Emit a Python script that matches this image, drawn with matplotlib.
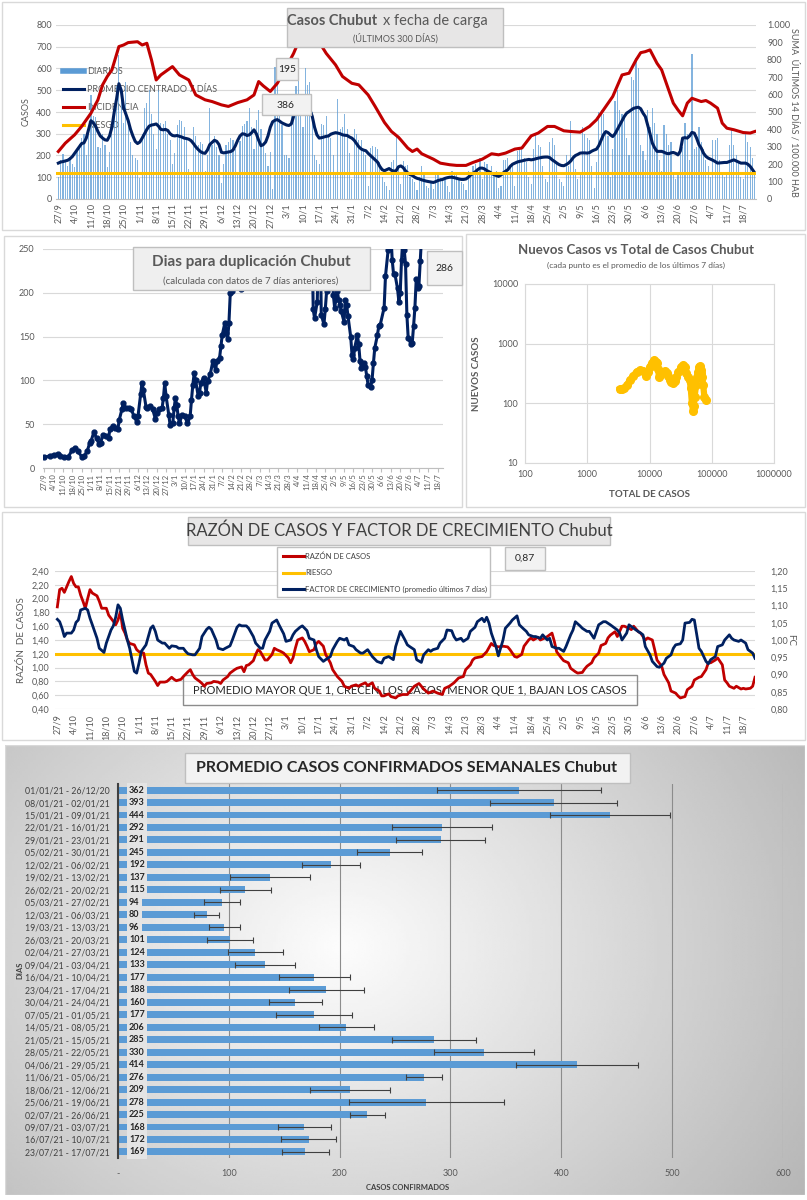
import numpy as np
import pandas as pd
import matplotlib
matplotlib.use("Agg")
import matplotlib.pyplot as plt
from matplotlib.patches import Rectangle
from matplotlib.lines import Line2D

plt.rcParams['font.family'] = ['Lato', 'DejaVu Sans']

# ---------------- datos ----------------
# casos diarios desde 27/9/2020 (300 dias)
diarios = [
    100, 180, 205, 175, 150, 195, 160,
    145, 230, 255, 280, 300, 200, 310,
    480, 380, 375, 240, 235, 300, 250,
    145, 215, 350, 390, 520, 660, 470,
    350, 540, 345, 260, 200, 190, 180,
    95, 300, 420, 440, 500, 390, 300,
    230, 500, 350, 345, 360, 300, 270,
    160, 210, 340, 365, 360, 330, 280,
    140, 110, 330, 290, 250, 260, 255,
    130, 200, 420, 250, 290, 240, 200,
    75, 160, 250, 260, 280, 270, 230,
    120, 265, 335, 345, 360, 420, 330,
    230, 365, 410, 320, 250, 210, 150,
    215, 45, 605, 540, 380, 340, 200,
    200, 190, 480, 430, 520, 600, 390,
    330, 600, 525, 540, 400, 200, 180,
    160, 345, 340, 380, 300, 280, 200,
    110, 460, 320, 330, 390, 320, 210,
    90, 320, 300, 270, 270, 230, 200,
    60, 235, 245, 240, 230, 170, 100,
    80, 60, 40, 170, 180, 290, 150,
    70, 175, 150, 155, 100, 90, 80,
    40, 100, 150, 110, 60, 50, 80,
    45, 120, 110, 95, 90, 100, 60,
    30, 130, 120, 110, 90, 80, 70,
    40, 130, 110, 150, 160, 140, 190,
    90, 170, 160, 130, 150, 110, 130,
    50, 60, 180, 180, 190, 150, 160,
    60, 220, 240, 230, 190, 170, 100,
    70, 230, 300, 250, 240, 150, 90,
    80, 260, 280, 250, 170, 90, 80,
    60, 200, 150, 360, 200, 140, 90,
    120, 330, 300, 280, 270, 150, 50,
    170, 400, 410, 390, 310, 290, 100,
    230, 450, 500, 410, 390, 380, 280,
    200, 560, 545, 650, 600, 250, 220,
    180, 410, 330, 420, 350, 300, 180,
    130, 340, 300, 250, 260, 120, 90,
    110, 230, 240, 350, 300, 180, 667,
    230, 240, 330, 260, 230, 180, 150,
    100, 270, 270, 280, 180, 120, 100,
    110, 250, 320, 250, 200, 170, 100,
    90, 300, 260, 240, 190, 120,
]
promedio_7d = [
    165, 170, 172, 175, 178, 185, 195,
    210, 225, 240, 255, 258, 280, 320,
    360, 350, 335, 310, 290, 280, 272,
    270, 290, 330, 400, 460, 530, 500,
    420, 390, 360, 320, 290, 265, 255,
    262, 280, 300, 320, 335, 340, 342,
    345, 335, 320, 318, 320, 315, 300,
    292, 290, 292, 288, 285, 280, 278,
    275, 268, 255, 240, 228, 218, 212,
    210, 225, 250, 260, 270, 265, 250,
    215, 212, 214, 216, 218, 225, 245,
    270, 290, 300, 298, 292, 295, 305,
    318, 300, 270, 245, 250, 262, 290,
    330, 355, 362, 365, 358, 350, 345,
    340, 338, 345, 380, 420, 450, 455,
    445, 440, 420, 410, 380, 330, 295,
    280, 282, 285, 288, 290, 298, 302,
    305, 303, 300, 295, 293, 292, 285,
    280, 270, 255, 240, 230, 225, 222,
    210, 200, 190, 180, 170, 150, 135,
    130, 135, 140, 132, 128, 130, 148,
    152, 145, 130, 120, 112, 108, 100,
    95, 92, 88, 85, 82, 80, 78,
    76, 80, 85, 88, 90, 95, 98,
    100, 100, 98, 95, 92, 90, 90,
    92, 100, 110, 118, 125, 135, 142,
    142, 138, 130, 125, 118, 112, 108,
    104, 110, 120, 128, 135, 150, 160,
    165, 170, 173, 175, 178, 180, 182,
    180, 182, 185, 188, 190, 192, 193,
    193, 190, 180, 173, 165, 158, 154,
    153, 158, 165, 175, 190, 200, 205,
    211, 212, 212, 211, 213, 220, 225,
    229, 245, 270, 295, 310, 305, 295,
    287, 300, 320, 341, 360, 380, 395,
    402, 410, 417, 420, 422, 415, 395,
    379, 340, 300, 257, 235, 219, 219,
    219, 215, 210, 208, 212, 214, 210,
    203, 220, 280, 282, 280, 290, 306,
    303, 280, 250, 234, 210, 196, 188,
    183, 178, 172, 165, 166, 167, 168,
    168, 172, 176, 180, 175, 170, 165,
    165, 165, 160, 150, 135, 119,
]
inc_dias = [0, 3, 7, 10, 14, 17, 19, 21, 23, 26, 28, 30, 34, 36, 38, 40, 42, 44, 47, 49,
            52, 56, 59, 63, 66, 70, 73, 77, 81, 84, 86, 88, 91, 94, 98, 101, 103, 105, 108, 111,
            113, 115, 119, 122, 126, 129, 133, 136, 140, 143, 146, 147, 150, 152, 154, 156, 161, 164, 168, 171,
            175, 178, 182, 186, 189, 192, 196, 199, 203, 206, 210, 213, 217, 220, 224, 228, 231, 234, 238, 242,
            245, 248, 250, 252, 254, 257, 259, 262, 264, 266, 268, 270, 272, 273, 276, 278, 280, 283, 285, 287,
            290, 294, 297, 299]
incidencia = [273, 321, 369, 417, 493, 570, 656, 704, 742, 876, 885, 899, 904, 885, 895, 799, 684, 713, 742, 761,
              713, 684, 598, 570, 560, 541, 532, 554, 570, 598, 675, 650, 618, 665, 761, 837, 900, 930, 960, 930,
              880, 837, 771, 704, 665, 656, 598, 532, 440, 388, 355, 340, 293, 273, 287, 260, 229, 206, 197, 193,
              193, 210, 229, 260, 254, 264, 287, 293, 363, 379, 417, 417, 392, 388, 384, 417, 455, 512, 589, 713,
              723, 799, 841, 847, 857, 780, 742, 627, 551, 512, 478, 551, 579, 574, 560, 566, 551, 522, 436, 407,
              398, 382, 379, 388]
riesgo_incidencia = 150

dup_dias = [0, 4, 7, 10, 12, 15, 18, 21, 23, 25, 28, 30, 32, 34, 35, 37, 39, 41, 42, 44,
            46, 48, 49, 51, 53, 55, 56, 58, 59, 61, 63, 65, 67, 69, 70, 72, 73, 74, 76, 77,
            79, 81, 83, 84, 86, 88, 89, 90, 91, 93, 94, 96, 97, 98, 99, 100, 101, 103, 105, 107,
            109, 110, 111, 112, 113, 115, 116, 117, 119, 121, 122, 124, 126, 128, 129, 131, 132, 133, 135, 136,
            137, 138, 139, 140, 142, 143, 145, 146, 147, 148, 149, 150, 152, 160, 175, 190, 198, 200, 201, 202,
            204, 205, 206, 207, 209, 210, 211, 212, 214, 215, 216, 217, 219, 220, 221, 222, 224, 225, 226, 227,
            229, 230, 231, 232, 234, 235, 236, 237, 239, 240, 241, 242, 244, 245, 246, 247, 249, 250, 251, 254,
            255, 257, 258, 259, 260, 261, 262, 264, 265, 266, 267, 268, 269, 270, 271, 272, 274, 275, 276, 277,
            278, 279, 280, 281, 282, 284, 287, 290, 293, 296, 299]
duplicacion = [12, 14, 15, 16, 14, 12, 13, 21, 23, 19, 13, 14, 19, 29, 31, 41, 34, 27, 29, 38,
               37, 34, 44, 48, 46, 45, 55, 67, 74, 68, 68, 67, 59, 53, 59, 84, 97, 89, 70, 68,
               71, 67, 56, 63, 67, 68, 80, 97, 82, 61, 49, 51, 68, 80, 72, 59, 51, 61, 59, 51,
               59, 78, 95, 108, 101, 82, 86, 97, 103, 86, 99, 107, 122, 112, 122, 126, 139, 152, 166, 154,
               147, 166, 200, 202, 290, 340, 280, 210, 204, 206, 270, 330, 400, 600, 800, 500, 320, 270, 181, 171,
               190, 260, 300, 175, 164, 181, 202, 270, 290, 260, 198, 183, 202, 192, 186, 179, 167, 192, 186, 173,
               150, 129, 124, 137, 152, 141, 122, 114, 120, 115, 105, 95, 93, 101, 120, 137, 152, 162, 163, 183,
               219, 249, 290, 270, 238, 222, 222, 205, 190, 200, 237, 262, 249, 233, 175, 148, 142, 143, 162, 183,
               216, 206, 208, 236, 265, 300, 330, 310, 300, 290, 286]

total_casos = [3340, 3600, 3900, 4300, 4830, 5500, 6200, 7000, 7900, 8900, 9500, 10000, 11000, 11800, 12500,
               13000, 13700, 14200, 15000, 16500, 17500, 18800, 20000, 21300, 22500, 24200, 25500, 27000, 29000,
               32000, 35000, 36500, 38000, 41000, 44000, 46000, 48000, 50000, 51500, 53000, 56000, 58000, 60000,
               62000, 64000, 66000, 68000, 70000, 73000, 76000, 80000]
nuevos_casos = [172, 175, 180, 200, 247, 290, 340, 360, 355, 290, 330, 410, 480, 535, 500,
                470, 380, 280, 300, 340, 350, 320, 290, 247, 230, 220, 240, 280, 330,
                410, 440, 400, 320, 280, 247, 180, 100, 75, 90, 130, 200, 280, 340,
                410, 420, 365, 320, 280, 200, 130, 115]

razon_dias = [0, 1, 2, 3, 4, 5, 6, 7, 8, 9, 10, 11, 12, 13, 14, 15, 17, 18, 19, 21,
              22, 24, 25, 26, 27, 28, 29, 30, 31, 33, 34, 35, 37, 38, 39, 40, 42, 43, 44, 46,
              47, 49, 50, 51, 53, 54, 56, 57, 58, 59, 61, 62, 63, 64, 66, 67, 69, 70, 71, 73,
              74, 76, 77, 79, 80, 81, 82, 84, 85, 86, 87, 89, 90, 92, 93, 94, 96, 97, 99, 100,
              101, 102, 103, 105, 106, 107, 108, 110, 111, 112, 114, 115, 117, 118, 119, 120, 122, 123, 125, 126,
              128, 129, 130, 132, 133, 135, 136, 138, 139, 140, 142, 143, 145, 146, 148, 150, 153, 155, 157, 159,
              161, 163, 165, 166, 168, 170, 172, 174, 175, 177, 178, 179, 182, 184, 186, 187, 189, 191, 193, 194,
              196, 197, 199, 200, 202, 203, 204, 206, 207, 209, 210, 212, 213, 214, 216, 217, 219, 220, 222, 223,
              225, 226, 227, 229, 230, 232, 233, 235, 236, 237, 239, 240, 242, 243, 245, 246, 247, 249, 250, 252,
              253, 255, 256, 257, 259, 260, 262, 263, 265, 266, 267, 269, 270, 272, 273, 275, 276, 278, 279, 280,
              282, 283, 285, 286, 287, 288, 290, 291, 293, 294, 295, 297, 298, 299]
razon = [1.88, 2.13, 2.15, 2.09, 2.17, 2.25, 2.32, 2.22, 2.17, 2.17, 2.05, 1.96, 1.86, 2.00, 2.13, 2.08, 2.04, 1.96, 1.86, 1.86,
         1.76, 1.67, 1.62, 1.69, 1.81, 1.57, 1.50, 1.40, 1.35, 1.33, 1.26, 1.23, 1.21, 1.04, 0.92, 0.90, 0.80, 0.74, 0.79, 0.79,
         0.80, 0.86, 0.83, 0.81, 0.83, 0.87, 0.94, 0.97, 0.90, 0.85, 0.80, 0.77, 0.73, 0.77, 0.78, 0.80, 0.79, 0.77, 0.82, 0.87,
         0.92, 0.97, 0.99, 1.01, 0.94, 1.03, 1.04, 1.10, 1.19, 1.26, 1.23, 1.11, 1.11, 1.19, 1.28, 1.26, 1.23, 1.21, 1.14, 1.07,
         1.14, 1.28, 1.40, 1.43, 1.38, 1.31, 1.23, 1.26, 1.35, 1.38, 1.31, 1.19, 1.07, 0.97, 0.92, 0.87, 0.80, 0.73, 0.70, 0.73,
         0.75, 0.73, 0.75, 0.78, 0.74, 0.78, 0.70, 0.66, 0.59, 0.59, 0.62, 0.58, 0.56, 0.59, 0.61, 0.61, 0.73, 0.77, 0.69, 0.63,
         0.66, 0.63, 0.61, 0.70, 0.73, 0.78, 0.85, 0.87, 0.97, 1.04, 1.11, 1.14, 1.16, 1.23, 1.35, 1.32, 1.30, 1.31, 1.30, 1.26,
         1.16, 1.15, 1.19, 1.31, 1.40, 1.43, 1.40, 1.44, 1.40, 1.43, 1.45, 1.50, 1.38, 1.23, 1.14, 1.10, 1.07, 0.99, 0.94, 0.92,
         0.93, 0.98, 1.02, 1.07, 1.14, 1.21, 1.32, 1.35, 1.43, 1.47, 1.52, 1.45, 1.60, 1.60, 1.57, 1.55, 1.60, 1.52, 1.50, 1.40,
         1.43, 1.40, 1.26, 1.11, 1.02, 0.90, 0.78, 0.66, 0.63, 0.59, 0.56, 0.58, 0.68, 0.73, 0.82, 0.86, 0.87, 0.97, 1.07, 1.07,
         1.11, 1.14, 1.04, 0.82, 0.78, 0.73, 0.70, 0.73, 0.69, 0.70, 0.69, 0.70, 0.73, 0.86]

fc_dias = [0, 1, 2, 3, 4, 6, 7, 8, 9, 10, 12, 13, 14, 15, 17, 18, 20, 21, 23, 24,
           25, 26, 27, 28, 30, 31, 32, 33, 34, 35, 36, 38, 39, 40, 41, 42, 43, 45, 46, 48,
           49, 51, 52, 54, 55, 56, 58, 59, 61, 62, 64, 65, 66, 68, 69, 71, 72, 74, 75, 77,
           78, 79, 81, 82, 84, 85, 87, 88, 89, 91, 92, 94, 95, 97, 98, 100, 101, 102, 104, 105,
           107, 108, 110, 111, 112, 114, 115, 117, 118, 120, 121, 123, 124, 125, 127, 128, 130, 131, 133, 134,
           135, 137, 139, 140, 142, 144, 145, 147, 149, 150, 151, 153, 154, 156, 157, 159, 160, 161, 163, 164,
           166, 167, 169, 170, 171, 173, 174, 176, 177, 179, 180, 182, 183, 184, 185, 186, 188, 189, 191, 192,
           194, 195, 197, 198, 200, 201, 202, 204, 205, 207, 208, 210, 211, 212, 214, 215, 217, 218, 220, 221,
           222, 224, 225, 227, 228, 230, 231, 232, 234, 235, 237, 238, 240, 241, 242, 244, 245, 247, 248, 250,
           251, 252, 254, 255, 257, 258, 260, 261, 263, 264, 265, 267, 268, 269, 271, 272, 273, 275, 276, 278,
           279, 280, 282, 283, 285, 286, 288, 289, 290, 292, 293, 295, 296, 298, 299]
fc = [1.060, 1.053, 1.034, 1.010, 1.020, 1.020, 1.029, 1.051, 1.058, 1.087, 1.092, 1.087, 1.063, 1.044, 1.005, 0.976, 0.964, 0.991, 1.029, 1.041,
      1.066, 1.102, 1.092, 1.058, 1.000, 0.976, 0.943, 0.909, 0.904, 0.933, 0.967, 0.986, 1.010, 1.034, 1.041, 1.025, 1.000, 0.991, 0.991, 0.976,
      0.983, 0.981, 0.976, 0.976, 0.967, 0.960, 0.957, 0.957, 0.976, 1.010, 1.031, 1.037, 1.031, 1.000, 0.976, 0.972, 0.976, 0.983, 1.000, 1.037,
      1.044, 1.041, 1.041, 1.034, 1.010, 0.991, 0.976, 0.976, 1.000, 1.025, 1.049, 1.058, 1.044, 1.018, 0.996, 1.000, 1.015, 1.025, 1.037, 1.041,
      1.027, 1.005, 1.000, 0.972, 0.952, 0.938, 0.943, 0.952, 0.972, 0.996, 1.005, 1.000, 1.005, 0.986, 0.981, 0.972, 0.962, 0.962, 0.972, 0.962,
      0.952, 0.938, 0.933, 0.947, 0.952, 0.943, 0.981, 1.025, 1.000, 0.986, 0.981, 0.972, 0.943, 0.935, 0.957, 0.972, 0.967, 0.972, 0.976, 0.991,
      1.005, 1.029, 1.027, 1.010, 1.000, 1.005, 0.996, 1.005, 1.025, 1.037, 1.053, 1.063, 1.053, 1.066, 1.049, 1.020, 0.981, 0.954, 1.000, 1.034,
      1.049, 1.058, 1.070, 1.044, 1.031, 1.025, 1.015, 1.010, 1.010, 1.005, 1.015, 1.000, 1.005, 0.981, 0.976, 0.976, 0.967, 0.981, 1.015, 1.029,
      1.053, 1.041, 1.034, 1.025, 1.025, 1.005, 1.025, 1.044, 1.053, 1.053, 1.044, 1.039, 1.029, 1.020, 1.000, 1.020, 1.044, 1.034, 1.029, 1.020,
      1.015, 0.981, 0.957, 0.938, 0.923, 0.921, 0.933, 0.947, 0.957, 0.976, 0.986, 0.989, 1.000, 1.049, 1.051, 1.060, 1.058, 0.976, 0.967, 0.938,
      0.931, 0.943, 0.952, 0.981, 0.986, 1.000, 1.015, 1.005, 1.000, 0.996, 1.000, 0.991, 0.972, 0.962, 0.947]
riesgo_razon = 1.20

semanas = ['01/01/21 - 26/12/20', '08/01/21 - 02/01/21', '15/01/21 - 09/01/21', '22/01/21 - 16/01/21',
           '29/01/21 - 23/01/21', '05/02/21 - 30/01/21', '12/02/21 - 06/02/21', '19/02/21 - 13/02/21',
           '26/02/21 - 20/02/21', '05/03/21 - 27/02/21', '12/03/21 - 06/03/21', '19/03/21 - 13/03/21',
           '26/03/21 - 20/03/21', '02/04/21 - 27/03/21', '09/04/21 - 03/04/21', '16/04/21 - 10/04/21',
           '23/04/21 - 17/04/21', '30/04/21 - 24/04/21', '07/05/21 - 01/05/21', '14/05/21 - 08/05/21',
           '21/05/21 - 15/05/21', '28/05/21 - 22/05/21', '04/06/21 - 29/05/21', '11/06/21 - 05/06/21',
           '18/06/21 - 12/06/21', '25/06/21 - 19/06/21', '02/07/21 - 26/06/21', '09/07/21 - 03/07/21',
           '16/07/21 - 10/07/21', '23/07/21 - 17/07/21']
prom_semanal = [362, 393, 444, 292, 291, 245, 192, 137, 115, 94, 80, 96, 101, 124, 133,
                177, 188, 160, 177, 206, 285, 330, 414, 276, 209, 278, 225, 168, 172, 169]
error_semanal = [74, 57, 54, 45, 40, 29, 26, 36, 23, 16, 11, 14, 21, 25, 27,
                 32, 34, 24, 34, 25, 38, 45, 55, 16, 36, 70, 16, 24, 25, 21]

# ---------------- figura ----------------
W, H = 807, 1200
fig = plt.figure(figsize=(W / 100, H / 100), dpi=100)
GRAY = '#595959'
RED = '#C00000'
NAVY = '#002060'
YELLOW = '#FFC000'
BLUE = '#5B9BD5'


def fx(x):
    return x / W


def fy(y):
    return 1 - y / H


def px_axes(x0, y0, x1, y1, **kw):
    return fig.add_axes([fx(x0), fy(y1), (x1 - x0) / W, (y1 - y0) / H], **kw)


def box(x0, y0, x1, y1, fc='none', ec='#d9d9d9', lw=1, z=0, ax=None):
    r = Rectangle((fx(x0), fy(y1)), (x1 - x0) / W, (y1 - y0) / H,
                  transform=fig.transFigure, fc=fc, ec=ec, lw=lw, zorder=z)
    if ax is None:
        fig.patches.append(r)
    else:
        r.set_clip_on(False)
        ax.add_patch(r)


def ftext(x, y, s, **kw):
    kw.setdefault('ha', 'center')
    kw.setdefault('va', 'center')
    return fig.text(fx(x), fy(y), s, **kw)


def clean(ax):
    for s in ax.spines.values():
        s.set_visible(False)


dias = np.arange(len(diarios))
fechas = pd.date_range('2020-09-27', periods=len(diarios), freq='D')
tick_dias = dias[::7]
tick_lab = [f'{d.day}/{d.month}' for d in fechas[::7]]

# marcos de los paneles
box(2, 2, 805, 230)
box(4, 236, 462, 507)
box(466, 234, 805, 507)
box(2, 512, 805, 740)

# ---------- panel 1: casos diarios ----------
ax1 = px_axes(56, 25, 756, 199)
ax1.bar(dias, diarios, width=0.5, color=BLUE, alpha=0.75, zorder=2)
ax1.plot(dias, promedio_7d, color=NAVY, lw=2.2, zorder=3)
ax1.set_xlim(-1, 299.5)
ax1.set_ylim(0, 800)
ax1.set_yticks(range(0, 801, 100))
ax1.grid(axis='y', color='#d9d9d9', lw=0.8)
ax1.set_axisbelow(True)
ax1.set_xticks(tick_dias)
ax1.set_xticklabels(tick_lab, rotation=90)
ax1.tick_params(length=0, labelsize=6.5, labelcolor=GRAY, pad=3)
clean(ax1)
ax1.spines['bottom'].set_visible(True)
ax1.spines['bottom'].set_color('#bfbfbf')
ax1.set_ylabel('CASOS', fontsize=6.5, color=GRAY, labelpad=4)

ax1b = ax1.twinx()
ax1b.plot(inc_dias, incidencia, color=RED, lw=2.2, zorder=3)
ax1b.axhline(riesgo_incidencia, color=YELLOW, lw=2.2, zorder=4)
ax1b.set_ylim(0, 1000)
ax1b.set_yticks(range(0, 1001, 100))
ax1b.set_yticklabels([f'{v:,}'.replace(',', '.') for v in range(0, 1001, 100)])
ax1b.tick_params(length=0, labelsize=6.5, labelcolor=GRAY, pad=8)
clean(ax1b)
ax1b.set_ylabel('SUMA  ÚLTIMOS 14 DÍAS / 100.000 HAB', fontsize=6.5, color=GRAY,
                rotation=270, labelpad=6)

# leyenda (debajo de las lineas, como en el original)
leg = [('DIARIOS', BLUE, 4), ('PROMEDIO CENTRADO 7 DÍAS', NAVY, 2.2),
       ('INCIDENCIA', RED, 2.2), ('RIESGO', YELLOW, 2.2)]
for i, (lab, col, lw) in enumerate(leg):
    yy = 71 + 18 * i
    ax1.add_line(Line2D([fx(63), fx(84)], [fy(yy), fy(yy)], color=col, lw=lw,
                        transform=fig.transFigure, zorder=1))
    ax1.text(fx(87), fy(yy), lab, transform=fig.transFigure, fontsize=6.5, color=GRAY,
             va='center', ha='left', zorder=1)

box(287, 8, 503, 47, fc='#E7E6E6', ec='#BFBFBF', z=5)
ftext(377, 21, 'Casos Chubut', ha='right', fontsize=10.5, weight='bold', color=GRAY, zorder=6)
ftext(383, 21, 'x fecha de carga', ha='left', fontsize=10.5, color=GRAY, zorder=6)
ftext(395, 38, '(ÚLTIMOS 300 DÍAS)', fontsize=6.5, color=GRAY, zorder=6)
box(276, 58, 298, 80, fc='#F2F2F2', ec='#BFBFBF', z=5)
ftext(287, 69, '195', fontsize=7.5, color='#262626', zorder=6)
box(262, 94, 311, 115, fc='#F2F2F2', ec='#BFBFBF', z=5)
ftext(286, 105, '386', fontsize=7.5, color='#262626', zorder=6)

# ---------- panel 2: dias para duplicacion ----------
ax2 = px_axes(43, 249, 443, 468)
ax2.plot(dup_dias, duplicacion, color=NAVY, lw=2.2, marker='o', ms=3.5)
ax2.set_xlim(-1, 298)
ax2.set_ylim(0, 250)
ax2.set_yticks(range(0, 251, 50))
ax2.grid(axis='y', color='#d9d9d9', lw=0.8)
ax2.set_axisbelow(True)
ax2.set_xticks(tick_dias)
ax2.set_xticklabels(tick_lab, rotation=90)
ax2.tick_params(axis='x', length=3, color='#bfbfbf', labelsize=5.5, labelcolor=GRAY, pad=1)
ax2.tick_params(axis='y', length=0, labelsize=6.5, labelcolor=GRAY, pad=6)
clean(ax2)
ax2.spines['bottom'].set_visible(True)
ax2.spines['bottom'].set_color('#bfbfbf')

box(133, 247, 370, 290, fc='#EFEFEF', ec='#BFBFBF', z=5)
ftext(251, 262, 'Dias para duplicación Chubut', fontsize=11, weight='bold', color=GRAY, zorder=6)
ftext(251, 281, '(calculada con datos de 7 días anteriores)', fontsize=7, color=GRAY, zorder=6)
box(427, 251, 462, 285, fc='#F2F2F2', ec='#BFBFBF', z=5)
ftext(444, 268, '286', fontsize=7.5, color='#262626', zorder=6)

# ---------- panel 3: nuevos casos vs total ----------
ax3 = px_axes(525, 284, 774, 463)
ax3.plot(total_casos, nuevos_casos, color=YELLOW, lw=4.5, marker='o', ms=5.5, mec=YELLOW)
ax3.set_xscale('log')
ax3.set_yscale('log')
ax3.set_xlim(100, 1e6)
ax3.set_ylim(10, 1e4)
ax3.set_xticks([100, 1000, 10000, 100000, 1000000])
ax3.set_xticklabels(['100', '1000', '10000', '100000', '1000000'])
ax3.set_yticks([10, 100, 1000, 10000])
ax3.set_yticklabels(['10', '100', '1000', '10000'])
ax3.minorticks_off()
ax3.grid(color='#d9d9d9', lw=0.8)
ax3.set_axisbelow(True)
ax3.tick_params(length=0, labelsize=6.5, labelcolor=GRAY, pad=5)
for s in ax3.spines.values():
    s.set_color('#d9d9d9')
ax3.set_xlabel('TOTAL DE CASOS', fontsize=7, color=GRAY, weight='bold', labelpad=8)
ax3.set_ylabel('NUEVOS CASOS', fontsize=7, color=GRAY, weight='bold', labelpad=8)
ftext(636, 250, 'Nuevos Casos vs Total de Casos Chubut', fontsize=9.5, weight='bold', color=GRAY)
ftext(636, 265, '(cada punto es el promedio de los últimos 7 días)', fontsize=6, color=GRAY)

# ---------- panel 4: razon de casos y factor de crecimiento ----------
ax4 = px_axes(55, 571, 755, 709)
ax4.plot(razon_dias, razon, color=RED, lw=2, zorder=3)
ax4.axhline(riesgo_razon, color=YELLOW, lw=2.2, zorder=2)
ax4.set_xlim(-1, 299)
ax4.set_ylim(0.4, 2.4)
rt = np.arange(0.4, 2.41, 0.2)
ax4.set_yticks(rt)
ax4.set_yticklabels([f'{v:.2f}'.replace('.', ',') for v in rt])
ax4.grid(axis='y', color='#d9d9d9', lw=0.8)
ax4.set_axisbelow(True)
ax4.set_xticks(tick_dias)
ax4.set_xticklabels(tick_lab, rotation=90)
ax4.tick_params(length=0, labelsize=6.5, labelcolor=GRAY, pad=4)
clean(ax4)
ax4.set_ylabel('RAZÓN  DE CASOS', fontsize=7, color=GRAY, labelpad=4)
# recuadro explicativo sin relleno, por debajo de las lineas
box(183, 675, 637, 705, fc='none', ec='#8C8C8C', z=1, ax=ax4)
ax4.text(fx(410), fy(690), 'PROMEDIO MAYOR QUE 1, CRECEN LOS CASOS, MENOR QUE 1, BAJAN LOS CASOS',
         transform=fig.transFigure, ha='center', va='center', fontsize=8, color='#262626', zorder=1)

ax4b = ax4.twinx()
ax4b.plot(fc_dias, fc, color=NAVY, lw=2, zorder=3)
ax4b.set_ylim(0.8, 1.2)
ft = np.arange(0.8, 1.201, 0.05)
ax4b.set_yticks(ft)
ax4b.set_yticklabels([f'{v:.2f}'.replace('.', ',') for v in ft])
ax4b.tick_params(length=0, labelsize=6.5, labelcolor=GRAY, pad=11)
clean(ax4b)
ax4b.set_ylabel('FC', fontsize=7, color=GRAY, rotation=270, labelpad=5)

box(188, 517, 610, 545, fc='#E7E6E6', ec='#BFBFBF', z=5)
ftext(399, 531, 'RAZÓN DE CASOS Y FACTOR DE CRECIMIENTO Chubut', fontsize=12, color='#404040', zorder=6)
box(277, 547, 490, 597, fc='white', ec='#BFBFBF', z=5)
leg4 = [('RAZÓN DE CASOS', RED), ('RIESGO', YELLOW), ('FACTOR DE CRECIMIENTO (promedio últimos 7 días)', NAVY)]
for i, (lab, col) in enumerate(leg4):
    yy = 556 + 16.5 * i
    fig.add_artist(Line2D([fx(283), fx(304)], [fy(yy), fy(yy)], color=col, lw=2.2, zorder=6))
    ftext(305, yy, lab, ha='left', fontsize=5.5, color='#404040', zorder=6)
box(505, 547, 545, 570, fc='#F2F2F2', ec='#BFBFBF', z=5)
ftext(525, 558, '0,87', fontsize=7.5, color='#262626', zorder=6)

# ---------- panel 5: promedio semanal ----------
bg = px_axes(5, 745, 805, 1195)
yy, xx = np.mgrid[0:1:200j, 0:1:300j]
rr = np.sqrt(((xx - 0.42) / 0.75) ** 2 + ((yy - 0.45) / 1.1) ** 2)
bg.imshow(np.clip(0.99 - 0.30 * rr, 0, 1), cmap='gray', vmin=0, vmax=1,
          extent=[0, 1, 0, 1], aspect='auto', origin='upper')
bg.set_axis_off()
bg.add_patch(Rectangle((0, 0), 1, 1, transform=bg.transAxes, fill=False, ec='#d9d9d9', lw=1))

ax5 = px_axes(118, 783.8, 783, 1158.2)
ax5.patch.set_alpha(0)
pos = np.arange(len(semanas))
ax5.barh(pos, prom_semanal, height=0.56, color=BLUE, zorder=2,
         xerr=error_semanal, error_kw=dict(ecolor='#404040', elinewidth=0.8, capsize=2, capthick=0.8, zorder=3))
ax5.set_ylim(len(semanas) - 0.5, -0.5)
ax5.set_xlim(0, 600)
ax5.set_yticks(pos)
ax5.set_yticklabels(semanas)
ax5.set_xticks(range(0, 601, 100))
ax5.set_xticklabels(['-'] + [str(v) for v in range(100, 601, 100)])
ax5.grid(axis='x', color='#8c8c8c', lw=0.8)
ax5.set_axisbelow(True)
ax5.tick_params(axis='y', length=0, labelsize=6.3, labelcolor='#404040', pad=6)
ax5.tick_params(axis='x', length=0, labelsize=6.5, labelcolor=GRAY, pad=8)
clean(ax5)
ax5.spines['left'].set_visible(True)
ax5.spines['left'].set_color('#404040')
ax5.spines['left'].set_linewidth(1.5)
for i, v in enumerate(prom_semanal):
    ax5.text(10, i, str(v), ha='left', va='center', fontsize=6.5, weight='bold', color='#262626', zorder=5,
             bbox=dict(boxstyle='square,pad=0.25', fc='#E4E4E4', ec='none'))
ftext(408, 1187, 'CASOS CONFIRMADOS', fontsize=5.5, weight='bold', color='#404040')
ftext(20, 970, 'DIAS', fontsize=5.5, weight='bold', color='#404040', rotation=90)
box(185, 753, 630, 783, fc='#F2F2F2', ec='#BFBFBF', z=5)
ftext(407, 768, 'PROMEDIO CASOS CONFIRMADOS SEMANALES Chubut', fontsize=11.5, weight='bold',
      color='#262626', zorder=6)

fig.savefig('out.png', dpi=100)
